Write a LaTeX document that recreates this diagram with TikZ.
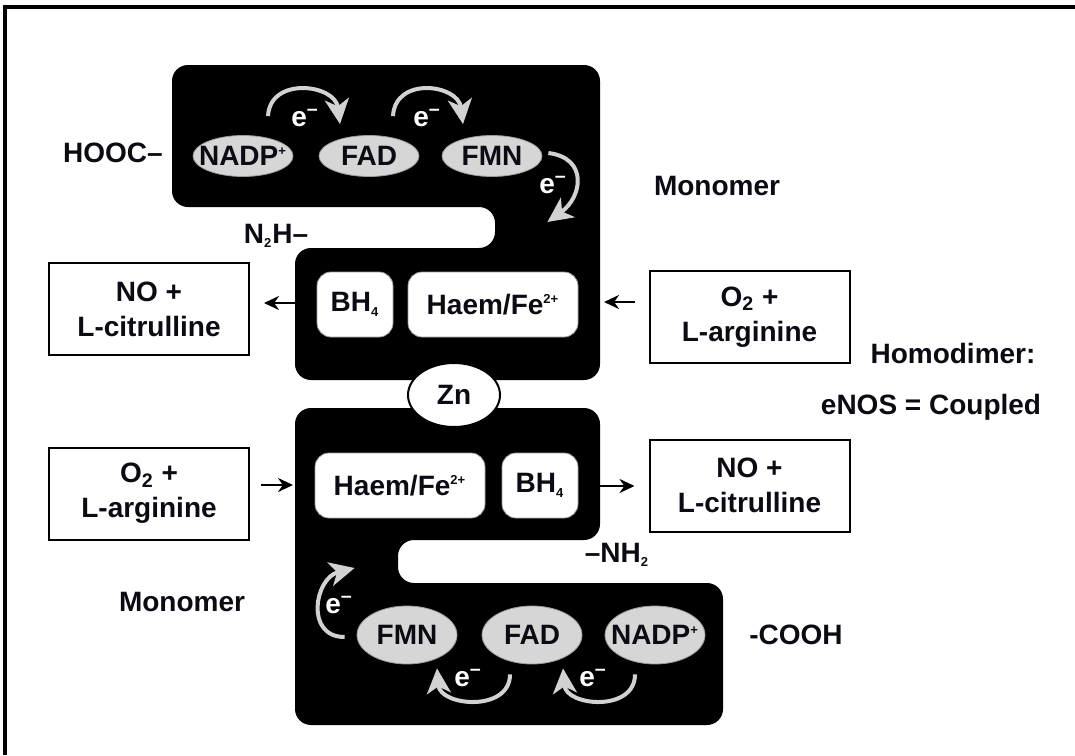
\documentclass[tikz,border=0pt]{standalone}
\usepackage{fontspec}
\setmainfont{Liberation Sans}
\usepackage{tikz}
\usetikzlibrary{arrows.meta,positioning,calc,shapes.geometric}
\definecolor{NosInk}{HTML}{0B0B14}
\definecolor{NosShell}{HTML}{000000}
\definecolor{NosFlavin}{HTML}{D6D6D6}
\definecolor{NosElec}{HTML}{D2D2D2}
\definecolor{NosRim}{HTML}{9A9A9A}
\tikzset{
  nostext/.style={font=\fontsize{14}{17.5}\selectfont\bfseries, text=NosInk},
  substbox/.style={nostext, draw=black, line width=1pt, fill=white, align=center, minimum width=100pt, minimum height=46pt, inner sep=0pt},
  cofbox/.style={nostext, draw=NosRim, line width=0.4pt, fill=white, rounded corners=7pt, minimum height=32.5pt, inner sep=0pt},
  flavin/.style={nostext, ellipse, draw=NosRim, line width=0.4pt, fill=NosFlavin, minimum width=50pt, inner xsep=-20pt, inner ysep=-10pt},
  zinc/.style={nostext, ellipse, draw=black, line width=1pt, fill=white, minimum width=46pt, minimum height=32pt, inner xsep=-15pt, inner ysep=-10pt},
  elabel/.style={nostext, text=white, inner sep=0pt},
  earrow/.style={-{Stealth[length=12.5pt,width=12pt,inset=3.5pt]}, line width=2pt, draw=NosElec},
  flowarrow/.style={-{Stealth[length=7.5pt,width=7pt]}, line width=1.3pt, draw=black}
}
\newcommand{\elec}{e\textsuperscript{--}}
\newcommand{\tinysup}[1]{\textsuperscript{\fontsize{6.5}{7}\selectfont #1}}
\newcommand{\tinysub}[1]{\textsubscript{\fontsize{6.5}{7}\selectfont #1}}

\begin{document}
\begin{tikzpicture}[x=0.5pt, y=-0.5pt]
\useasboundingbox (0,0) rectangle (1075,755);
\draw[line width=1.6pt] (5,755) -- (5,7) -- (1075,7);

% the two monomers
\fill[NosShell, rounded corners=8pt] (172,65) -- (600,65) -- (600,380) -- (295,380) -- (295,248) -- (495,248) -- (495,207) -- (172,207) -- cycle;
\fill[NosShell, rounded corners=8pt] (295,408) -- (600,408) -- (600,540) -- (398,540) -- (398,583) -- (723,583) -- (723,725) -- (295,725) -- cycle;

% upper monomer
\node[flavin, minimum height=20.5pt] (nadpA) at (243,156) {NADP\tinysup{+}};
\node[flavin, minimum height=20.5pt] (fadA) at (369,156) {FAD};
\node[flavin, minimum height=20.5pt] (fmnA) at (492,156) {FMN};
\node[cofbox, minimum width=38pt] (bhA) at (355,304.5) {BH\tinysub{4}};
\node[cofbox, minimum width=85pt] (haemA) at (493,304.5) {Haem/Fe\tinysup{2+}};
\node[zinc] (zn) at (454,395) {Zn};

% lower monomer
\node[cofbox, minimum width=85pt] (haemB) at (400,485.5) {Haem/Fe\tinysup{2+}};
\node[cofbox, minimum width=38pt] (bhB) at (540,485.5) {BH\tinysub{4}};
\node[flavin, minimum height=29pt] (fmnB) at (407,635) {FMN};
\node[flavin, minimum height=29pt] (fadB) at (532,635) {FAD};
\node[flavin, minimum height=29pt] (nadpB) at (655,635) {NADP\tinysup{+}};

% substrates and products
\node[substbox] (nocA) at (149,309) {NO +\\L-citrulline};
\node[substbox] (argA) at (749.5,317) {O\textsubscript{2} +\\L-arginine};
\node[substbox] (argB) at (149,493.5) {O\textsubscript{2} +\\L-arginine};
\node[substbox] (nocB) at (749.5,485.5) {NO +\\L-citrulline};

% termini and captions
\node[nostext] (cA) at (113,153) {HOOC--};
\node[nostext] (nA) at (276,236) {N\tinysub{2}H--};
\node[nostext] (monoA) at (717,186) {Monomer};
\node[nostext] (dimer) at (953,353) {Homodimer:};
\node[nostext] (coupled) at (931,407) {eNOS = Coupled};
\node[nostext] (monoB) at (182,602) {Monomer};
\node[nostext] (nB) at (617,555) {--NH\tinysub{2}};
\node[nostext] (cB) at (796,635) {-COOH};

% electron flow
\node[elabel] (e1) at (305,118) {\elec};
\node[elabel] (e2) at (427,118) {\elec};
\node[elabel] (e3) at (553,185) {\elec};
\node[elabel] (e4) at (339,605) {\elec};
\node[elabel] (e5) at (468,678) {\elec};
\node[elabel] (e6) at (593,678) {\elec};
\draw[earrow] ($(nadpA.north)+(25,-19)$) .. controls +(2,-40) and +(-5,-40) .. ($(fadA.north)+(-29,-11)$);
\draw[earrow] ($(fadA.north)+(24,-19)$) .. controls +(2,-40) and +(-5,-40) .. ($(fmnA.north)+(-29,-11)$);
\draw[earrow] ($(fmnA.east)+(6,-3)$) .. controls +(40,5) and +(35,-25) .. ($(fmnA.east)+(5,66)$);
\draw[earrow] ($(fmnB.west)+(-12,2)$) .. controls +(-40,0) and +(-40,10) .. ($(fmnB.west)+(-2,-67)$);
\draw[earrow] ($(fadB.south)+(-22,10)$) .. controls +(0,38) and +(3,38) .. ($(fmnB.south)+(30,4)$);
\draw[earrow] ($(nadpB.south)+(-20,10)$) .. controls +(0,38) and +(3,38) .. ($(fadB.south)+(31,4)$);

% substrate arrows
\coordinate (upL) at (297,303);
\coordinate (upR) at (604,302);
\coordinate (loL) at (293,485);
\coordinate (loR) at (598,486);
\draw[flowarrow, shorten >=7pt] (upL) -- (upL -| nocA.east);
\draw[flowarrow, shorten <=7pt] (argA.west |- upR) -- (upR);
\draw[flowarrow, shorten <=5.5pt] (argB.east |- loL) -- (loL);
\draw[flowarrow, shorten >=7pt] (loR) -- (loR -| nocB.west);
\end{tikzpicture}
\end{document}
